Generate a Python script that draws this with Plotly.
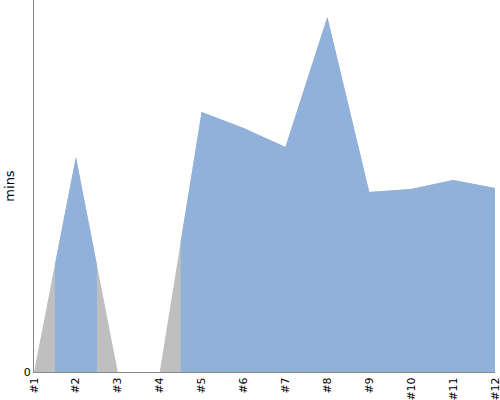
import numpy as np
import plotly.graph_objects as go

labels = ["#1", "#2", "#3", "#4", "#5", "#6", "#7", "#8", "#9", "#10", "#11", "#12"]
values = [0, 21.5, 0, 0, 26.0, 24.4, 22.5, 35.5, 18.0, 18.3, 19.2, 18.4]
highlight_ranges = [(1.5, 2.5), (4.5, 12)]

x = np.arange(1, len(labels) + 1)
y = np.array(values, dtype=float)

fig = go.Figure()
fig.add_trace(go.Scatter(x=x, y=y, mode="lines", fill="tozeroy",
                         line=dict(width=0, color="#bfbfbf"),
                         fillcolor="#bfbfbf", hoverinfo="skip", showlegend=False))

for lo, hi in highlight_ranges:
    inner = x[(x > lo) & (x < hi)]
    xs = np.concatenate([[lo], inner, [hi]])
    ys = np.interp(xs, x, y)
    fig.add_trace(go.Scatter(x=xs, y=ys, mode="lines", fill="tozeroy",
                             line=dict(width=0, color="#8fb1da"),
                             fillcolor="#8fb1da", showlegend=False))

fig.update_layout(
    width=500, height=400,
    margin=dict(l=34, r=5, t=0, b=28, autoexpand=False),
    plot_bgcolor="white", paper_bgcolor="white",
    font=dict(family="DejaVu Sans", size=11, color="#000"),
    xaxis=dict(range=[1, 12], tickvals=list(x), ticktext=labels, tickangle=-90,
               showgrid=False, zeroline=False, showline=True, linecolor="#888",
               ticks="", automargin=False, ticklabeloverflow="allow"),
    yaxis=dict(range=[0, 37.2], tickvals=[0], ticktext=["0"], showgrid=False,
               zeroline=False, showline=True, linecolor="#888", ticks="",
               automargin=False, ticklabeloverflow="allow",
               title=dict(text="mins", standoff=6)),
)

fig.write_html("out.html", config={"displayModeBar": False},
               post_script="document.body.style.margin='0';document.body.style.overflow='hidden';")
